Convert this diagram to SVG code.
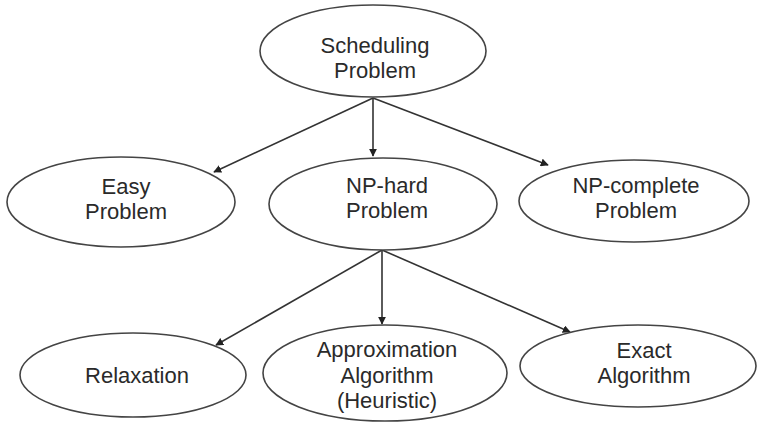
<svg xmlns="http://www.w3.org/2000/svg" width="758" height="422" viewBox="0 0 758 422">
<style>
.node ellipse{fill:#fff;stroke:#444;stroke-width:1.6}
.node text{font-family:"Liberation Sans",Arial,sans-serif;font-size:22px;fill:#2a2a2a;text-anchor:middle}
.edge{stroke:#333;stroke-width:1.6;fill:none;marker-end:url(#arr)}
</style>
<defs>
<marker id="arr" viewBox="0 0 10 10" refX="9" refY="5" markerWidth="5" markerHeight="5" orient="auto" markerUnits="strokeWidth">
<path d="M0,0 L10,5 L0,10 z" fill="#222"/>
</marker>
</defs>
<rect width="758" height="422" fill="#fff"/>
<g id="connectors">
<line class="edge" x1="373" y1="98" x2="214" y2="172"/>
<line class="edge" x1="373" y1="98" x2="373" y2="156"/>
<line class="edge" x1="373" y1="98" x2="548" y2="165"/>
<line class="edge" x1="382" y1="250" x2="216" y2="345"/>
<line class="edge" x1="382" y1="250" x2="382" y2="324"/>
<line class="edge" x1="382" y1="250" x2="570" y2="332"/>
</g>
<g id="scheduling" class="node">
<ellipse cx="373" cy="51" rx="113" ry="46"/>
<text x="375" y="52.5">Scheduling</text>
<text x="375" y="78">Problem</text>
</g>
<g id="easy" class="node">
<ellipse cx="121" cy="202" rx="114" ry="45"/>
<text x="126" y="193.5">Easy</text>
<text x="126" y="219">Problem</text>
</g>
<g id="nphard" class="node">
<ellipse cx="383" cy="204" rx="114" ry="46"/>
<text x="387" y="192.5">NP-hard</text>
<text x="387" y="218">Problem</text>
</g>
<g id="npcomplete" class="node">
<ellipse cx="634" cy="201" rx="115" ry="41"/>
<text x="636" y="192.5">NP-complete</text>
<text x="636" y="218">Problem</text>
</g>
<g id="relaxation" class="node">
<ellipse cx="133" cy="375" rx="113" ry="42"/>
<text x="137" y="383">Relaxation</text>
</g>
<g id="approximation" class="node">
<ellipse cx="385" cy="373" rx="122" ry="48"/>
<text x="387" y="357">Approximation</text>
<text x="387" y="382.5">Algorithm</text>
<text x="387" y="408">(Heuristic)</text>
</g>
<g id="exact" class="node">
<ellipse cx="638" cy="366" rx="118" ry="41"/>
<text x="644" y="357.5">Exact</text>
<text x="644" y="383">Algorithm</text>
</g>
</svg>
